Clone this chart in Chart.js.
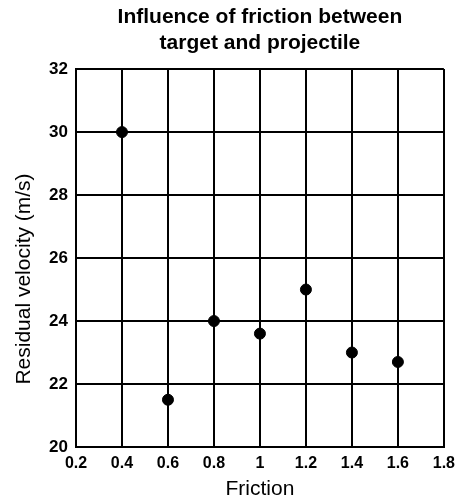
<!DOCTYPE html>
<html lang="en">
<head>
    <meta charset="UTF-8">
    <script src="https://cdn.jsdelivr.net/npm/chart.js"></script>
    <title>Friction</title>
    <style>
        body { margin: 0; background: #fff; }
        #grafico { display: block; }
    </style>
</head>
<body>
    <canvas id="grafico" width="462" height="502"></canvas>

<script>
    // dados
    const friccao = [0.4, 0.6, 0.8, 1.0, 1.2, 1.4, 1.6];
    const velocidade = [30.0, 21.5, 24.0, 23.6, 25.0, 23.0, 22.7];
    const ticksX = [0.2, 0.4, 0.6, 0.8, 1.0, 1.2, 1.4, 1.6, 1.8];
    const ticksY = [20, 22, 24, 26, 28, 30, 32];

    const fonte = 'Liberation Sans, Arial, sans-serif';
    const tituloY = 'Residual velocity (m/s)';

    // titulo do eixo y desenhado um pouco abaixo do centro, como no original
    const tituloEixoY = {
        id: 'tituloEixoY',
        afterDraw(chart) {
            const c = chart.ctx;
            c.save();
            c.translate(24, 279);
            c.rotate(-Math.PI / 2);
            c.fillStyle = '#000';
            c.font = '21px ' + fonte;
            c.textAlign = 'center';
            c.textBaseline = 'middle';
            c.fillText(tituloY, 0, 0);
            c.restore();
        }
    };

    const ctx = document.getElementById('grafico').getContext('2d');

    new Chart(ctx, {
        type: 'scatter',
        data: {
            datasets: [{
                data: friccao.map((x, i) => ({ x: x, y: velocidade[i] })),
                backgroundColor: '#000',
                borderColor: '#000',
                pointRadius: 5.5,
                pointStyle: 'circle'
            }]
        },
        options: {
            responsive: false,
            animation: false,
            layout: { padding: { left: 0, right: 15, top: 0, bottom: 0 } },
            plugins: {
                legend: { display: false },
                tooltip: { enabled: false },
                title: {
                    display: true,
                    fullSize: false,
                    text: ['Influence of friction between', 'target and projectile'],
                    color: '#000',
                    font: { family: fonte, size: 21, weight: 'bold', lineHeight: 1.24 },
                    padding: { top: 4, bottom: 13 }
                }
            },
            scales: {
                x: {
                    type: 'linear',
                    min: 0.2,
                    max: 1.8,
                    afterBuildTicks: (scale) => { scale.ticks = ticksX.map(v => ({ value: v })); },
                    afterFit: (scale) => { scale.height = 55; },
                    grid: { color: '#000', lineWidth: 2, drawTicks: false },
                    border: { color: '#000', width: 2 },
                    ticks: {
                        color: '#000',
                        padding: 7,
                        maxRotation: 0,
                        font: { family: fonte, size: 16, weight: 'bold' },
                        callback: (v) => String(Number(v.toFixed(1)))
                    },
                    title: {
                        display: true,
                        text: 'Friction',
                        color: '#000',
                        font: { family: fonte, size: 21 },
                        padding: { top: 0, bottom: 0 }
                    }
                },
                y: {
                    min: 20,
                    max: 32,
                    afterBuildTicks: (scale) => { scale.ticks = ticksY.map(v => ({ value: v })); },
                    afterFit: (scale) => { scale.width = 76; },
                    grid: { color: '#000', lineWidth: 2, drawTicks: false },
                    border: { color: '#000', width: 2 },
                    ticks: {
                        color: '#000',
                        padding: 8,
                        font: { family: fonte, size: 17, weight: 'bold' }
                    }
                }
            }
        },
        plugins: [tituloEixoY]
    });
</script>
</body>
</html>
